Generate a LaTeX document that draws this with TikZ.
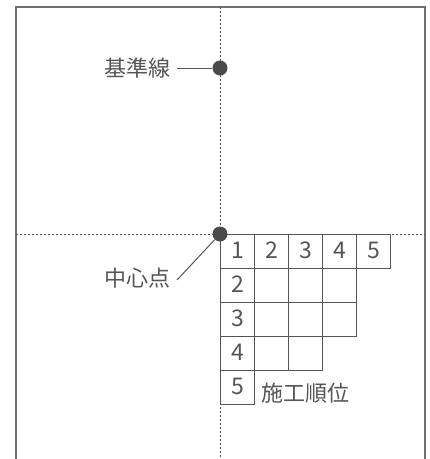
\documentclass[tikz,border=0pt]{standalone}
\usepackage{fontspec}
\setmainfont{Noto Sans CJK JP}
\definecolor{framegray}{HTML}{707070}
\definecolor{linegray}{HTML}{555555}
\definecolor{textgray}{HTML}{555555}
\definecolor{dotgray}{HTML}{4A4A4A}
\begin{document}
\begin{tikzpicture}[x=1pt,y=-1pt,
  cell/.style={draw=linegray, line width=1pt, minimum size=34pt, inner sep=0pt,
    anchor=north west},
  num/.style={text=textgray, font=\fontsize{23}{23}\selectfont, inner sep=0pt},
  guide/.style={draw=linegray, line width=1pt, dash pattern=on 2pt off 2pt},
  dotnode/.style={circle, fill=dotgray, minimum size=15pt, inner sep=0pt},
  lbl/.style={font=\fontsize{22}{22}\selectfont, text=textgray, inner sep=0pt},
  leader/.style={draw=linegray, line width=1pt}]
\useasboundingbox (0,0) rectangle (430,459);
% frame (open at bottom)
\draw[framegray, line width=1.2pt] (16,459) -- (16,7) -- (425,7) -- (425,459);
% guide lines
\coordinate (vt) at (220,7);
\coordinate (vb) at (220,459);
\coordinate (hl) at (16,234);
\coordinate (hr) at (425,234);
\draw[guide] (vt) -- (vb);
\draw[guide] (hl) -- (hr);
% grid cells
\foreach \r/\n in {1/5,2/4,3/4,4/3,5/1}{
  \foreach \c in {1,...,\n}{
    \node[cell] (c\r\c) at ({220+34*(\c-1)},{234+34*(\r-1)}) {};
  }
}
\foreach \c in {1,...,5}{ \node[num] (n1\c) at ([yshift=1pt]c1\c.center) {\c}; }
\foreach \r in {2,...,5}{ \node[num] (n\r1) at ([yshift=1pt]c\r1.center) {\r}; }
% dots
\node[dotnode] (p1) at (220,68) {};
\node[dotnode] (p2) at (220,234) {};
% labels
\node[lbl, anchor=east] (lab1) at (171,68) {基準線};
\coordinate (l1s) at (177,68);
\draw[leader] (l1s) -- (p1);
\node[lbl, anchor=east] (lab2) at (171,278) {中心点};
\coordinate (l2s) at (177,280);
\draw[leader] (l2s) -- (p2);
\node[lbl, anchor=west] (lab3) at (261,393) {施工順位};
\end{tikzpicture}
\end{document}
